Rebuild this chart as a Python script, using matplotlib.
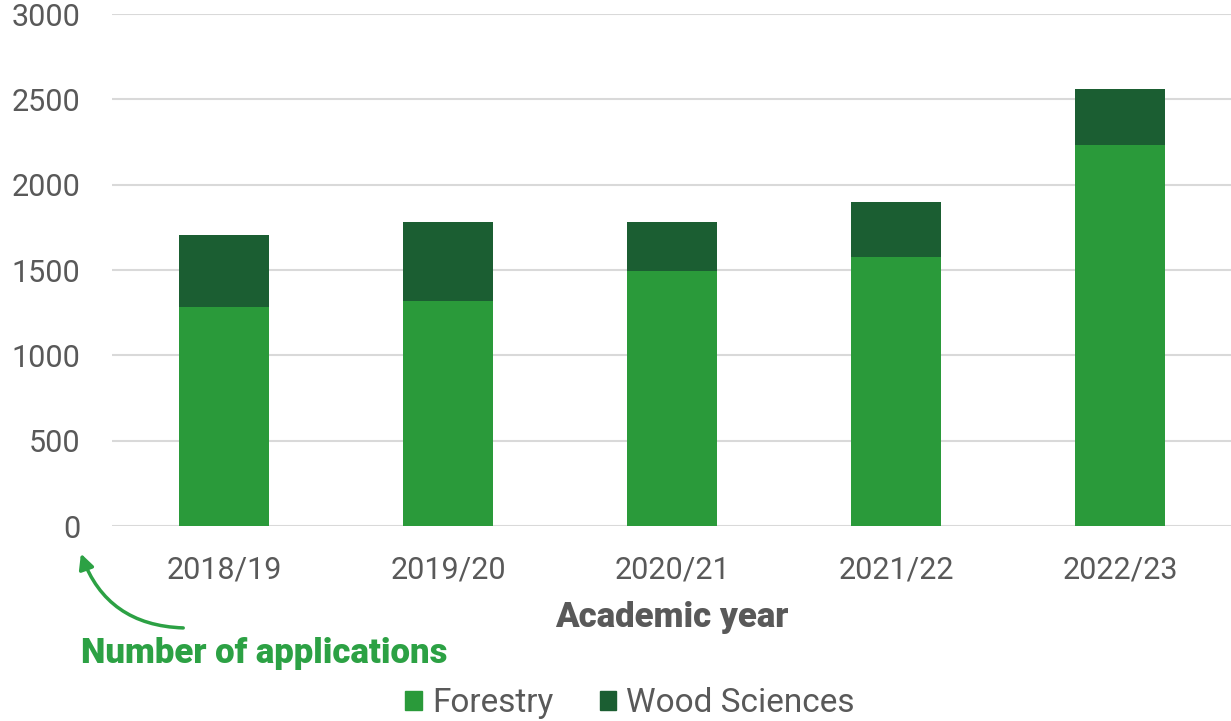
import matplotlib
matplotlib.use("Agg")
import matplotlib.pyplot as plt
from matplotlib.patches import Patch
import numpy as np

years = ["2018/19", "2019/20", "2020/21", "2021/22", "2022/23"]
forestry = [1283, 1318, 1494, 1576, 2232]
wood_sciences = [422, 463, 287, 322, 328]

C_FOREST = "#2a9a3a"
C_WOOD = "#1b5e32"
C_TEXT = "#595959"
C_NOTE = "#2ca144"

plt.rcParams["font.family"] = ["Roboto", "DejaVu Sans"]

fig = plt.figure(figsize=(12.31, 7.21), dpi=100)
ax = fig.add_axes([112 / 1231, 1 - 526 / 721, 1120 / 1231, 512 / 721])

x = np.arange(len(years))
ax.bar(x, forestry, width=0.4, color=C_FOREST, label="Forestry", zorder=3)
ax.bar(x, wood_sciences, width=0.4, bottom=forestry, color=C_WOOD,
       label="Wood Sciences", zorder=3)

ax.set_xlim(-0.5, len(years) - 0.5)
ax.set_ylim(0, 3000)
ax.set_yticks(np.arange(0, 3001, 500))
ax.set_xticks(x)
ax.set_xticklabels(years)
ax.grid(axis="y", color="#d9d9d9", linewidth=1.5, zorder=0)
for s in ax.spines.values():
    s.set_visible(False)
ax.tick_params(length=0, labelsize=22, colors=C_TEXT)
ax.tick_params(axis="y", pad=23)
ax.tick_params(axis="x", pad=21)

fig.text(672 / 1231, 1 - 617 / 721, "Academic year", ha="center", va="center",
         fontsize=25, fontweight="black", color=C_TEXT)
fig.text(81 / 1231, 1 - 654 / 721, "Number of applications", ha="left",
         va="center", fontsize=25, fontweight="black", color=C_NOTE)
ax.annotate("", xy=(80 / 1231, 1 - 551 / 721), xycoords="figure fraction",
            xytext=(186 / 1231, 1 - 628 / 721), textcoords="figure fraction",
            arrowprops=dict(arrowstyle="-|>,head_length=0.9,head_width=0.45",
                            color=C_NOTE, lw=2.5,
                            connectionstyle="arc3,rad=-0.35"))

handles = [Patch(color=C_FOREST, label="Forestry"),
           Patch(color=C_WOOD, label="Wood Sciences")]
fig.legend(handles=handles, loc="center", bbox_to_anchor=(630 / 1231, 1 - 703 / 721),
           ncol=2, frameon=False, fontsize=24, handlelength=0.5, handleheight=0.5,
           handletextpad=0.3, columnspacing=1.4, labelcolor=C_TEXT)

fig.savefig("out.png", dpi=100)
